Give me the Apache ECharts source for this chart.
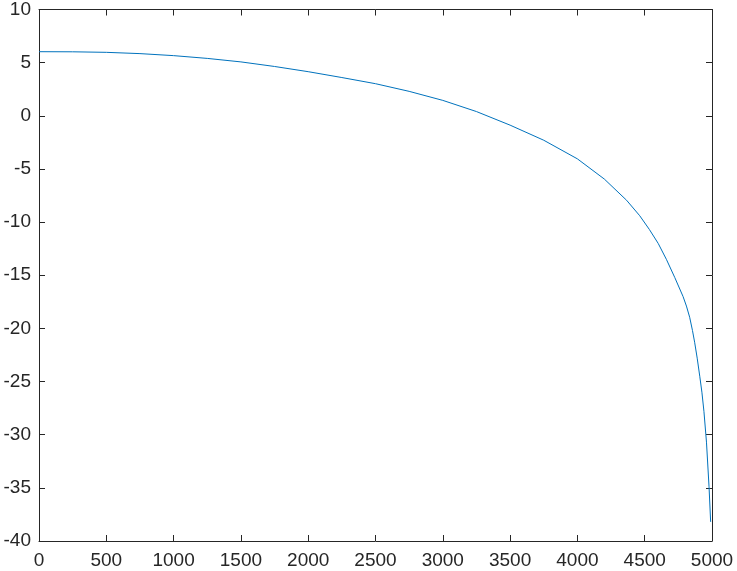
<!DOCTYPE html>
<html>
<head>
<meta charset="utf-8">
<script src="https://cdn.jsdelivr.net/npm/echarts@6/dist/echarts.min.js"></script>
<style>
html,body{margin:0;padding:0;background:#fff;}
#c{width:737px;height:571px;}
</style>
</head>
<body>
<div id="c"></div>
<script>
var xValues = [0, 250, 500, 750, 1000, 1250, 1500, 1750, 2000, 2250, 2500, 2750, 3000, 3250, 3500, 3750, 4000, 4200, 4365, 4463, 4535, 4600, 4661, 4723, 4785, 4810, 4834, 4855, 4871, 4890, 4909, 4925, 4940, 4959, 4978, 4990];
var yValues = [6.03, 6.02, 5.97, 5.85, 5.66, 5.4, 5.07, 4.64, 4.15, 3.6, 3.02, 2.3, 1.45, 0.4, -0.88, -2.3, -4.05, -5.95, -7.94, -9.4, -10.7, -12.0, -13.5, -15.2, -17.0, -17.9, -18.95, -20.2, -21.3, -22.8, -24.5, -26.0, -27.8, -30.7, -34.9, -38.2];
var xTicks = [0, 500, 1000, 1500, 2000, 2500, 3000, 3500, 4000, 4500, 5000];
var yTicks = [-40, -35, -30, -25, -20, -15, -10, -5, 0, 5, 10];

var pts = xValues.map(function (x, i) { return [x, yValues[i]]; });
var axisColor = '#262626';
var font = 'Liberation Sans, Arial, sans-serif';

function baseAxis(extra) {
  var a = {
    type: 'value',
    axisLine: { show: true, onZero: false, lineStyle: { color: axisColor, width: 1 } },
    axisTick: { show: true, inside: true, length: 6, lineStyle: { color: axisColor, width: 1 } },
    splitLine: { show: false }
  };
  for (var k in extra) a[k] = extra[k];
  return a;
}

var chart = echarts.init(document.getElementById('c'), null, { renderer: 'canvas' });
chart.setOption({
  animation: false,
  backgroundColor: '#ffffff',
  grid: { left: 39, right: 25, top: 9, bottom: 30, containLabel: false },
  xAxis: [
    baseAxis({ position: 'bottom', min: xTicks[0], max: xTicks[xTicks.length - 1], interval: 500,
      axisLabel: { color: axisColor, fontFamily: font, fontSize: 19, margin: 10,
        formatter: function (v) { return String(v); } } }),
    baseAxis({ position: 'top', min: xTicks[0], max: xTicks[xTicks.length - 1], interval: 500,
      axisLabel: { show: false } })
  ],
  yAxis: [
    baseAxis({ position: 'left', min: yTicks[0], max: yTicks[yTicks.length - 1], interval: 5,
      axisLabel: { color: axisColor, fontFamily: font, fontSize: 19, margin: 8,
        formatter: function (v) { return String(v); } } }),
    baseAxis({ position: 'right', min: yTicks[0], max: yTicks[yTicks.length - 1], interval: 5,
      axisLabel: { show: false } })
  ],
  series: [{
    type: 'line',
    data: pts,
    xAxisIndex: 0,
    yAxisIndex: 0,
    showSymbol: false,
    smooth: false,
    lineStyle: { color: '#0072BD', width: 1 },
    itemStyle: { color: '#0072BD' }
  }]
});
</script>
</body>
</html>
